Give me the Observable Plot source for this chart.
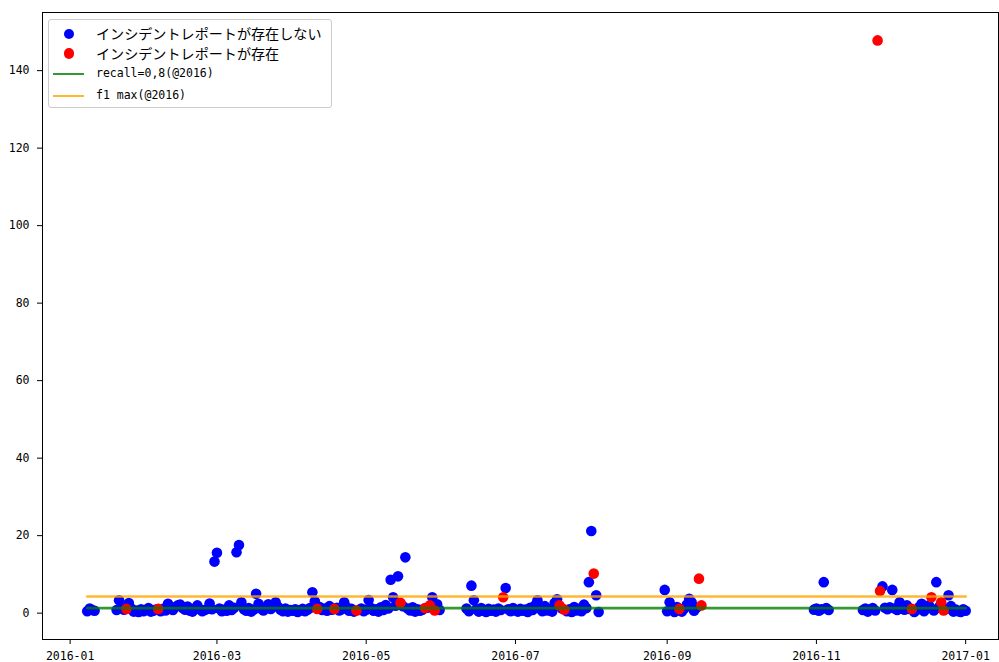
<!DOCTYPE html>
<html>
<head>
<meta charset="utf-8">
<script src="https://cdn.jsdelivr.net/npm/d3@7"></script>
<script src="https://cdn.jsdelivr.net/npm/@observablehq/plot@0.6"></script>
<style>
html, body { margin: 0; padding: 0; background: #fff; }
#wrap { position: relative; width: 999px; height: 662px; }
#legend { position: absolute; left: 48px; top: 19px; width: 284px; height: 89px; box-sizing: border-box;
  border: 1px solid #cccccc; border-radius: 3px; background: rgba(255,255,255,0.8); }
.row { position: absolute; left: 0; width: 100%; height: 0; }
.dotm { position: absolute; left: 14.5px; top: -5.3px; width: 10.6px; height: 10.6px; border-radius: 50%; }
.linem { position: absolute; left: 4px; top: -1.3px; width: 31px; height: 2.6px; }
.lab { position: absolute; left: 47px; white-space: nowrap; color: #000; line-height: 1; }
.jp { font-family: "Noto Sans CJK JP", sans-serif; font-size: 14.1px; top: -7.8px; }
.en { font-family: "DejaVu Sans Mono", monospace; font-size: 11.5px; top: -6.5px; }
</style>
</head>
<body>
<div id="wrap"></div>
<script>
// ---- data ----
const blueRuns = [
  ["2016-01-08", [0.5, 1.2, 0.8, 0.6]],
  ["2016-01-20", [
    0.8, 3.3, 1.5, 0.9, null, 2.6, 1.2, 0.4, 0.7, 0.3,
    1.0, 0.5, 0.8, 1.3, 0.4, 0.6, 0.9, null, 0.5, 1.1,
    0.7, 2.4, 1.4, 0.8, 1.6, 2.0, 2.2, 1.3, 0.9, 1.7,
    0.6, 0.4, 1.2, 2.0, 1.0, 0.5, 0.8, 1.1, 2.5, 1.0,
    13.3, 15.6, 1.2, 0.5, 0.9, 0.6, 2.0, 0.8, 1.4, 15.7,
    17.6, 2.8, 1.0, 0.6, 1.3, 0.4, 0.9, 5.0, 2.4, 1.2,
    0.7, 1.5, 2.3, 1.1, 2.0, 2.8, 1.6, 0.9, 0.5, 1.2,
    0.4, 0.8, 0.6, 1.0, 0.3, 0.7, 1.1, 0.5, 0.9, 1.3,
    5.4, 3.1, null, 1.6, 0.8, 1.2, 0.6, 1.8, 0.9, null,
    1.4, 0.7, 1.0, 2.8, 1.5, 0.6, 1.1, 0.4, null, 0.8,
    1.2, 0.5, 0.9, 3.4, 1.3, 0.6, 1.0, 0.4, 1.5, 0.8,
    2.1, 1.2, 8.6, 4.1, 1.9, 9.5, null, 1.8, 14.4, 1.2,
    0.7, 1.5, 0.4, 1.0, 0.6, 0.9, null, 1.4, null, 4.1,
    null, 2.3, 0.8]],
  ["2016-06-11", [
    1.2, 0.5, 7.1, 3.3, 1.0, 0.4, 1.3, 0.7, 0.3, 1.1,
    0.6, 0.9, 0.4, 1.2, 0.8, null, 6.5, 1.0, 0.5, 1.3,
    0.7, 0.4, 1.1, 0.6, 0.9, 0.3, 1.4, 0.8, 2.0, 3.3,
    1.2, 0.5, 1.8, 0.7, 1.0, 0.4, 2.6, 3.6, null, 1.2,
    null, 0.5, 1.0, 0.3, 1.6, 0.7, 1.1, 0.5, 2.2, 1.3,
    8.0, 21.2, null, 4.6, 0.3]],
  ["2016-08-31", [6.0, 0.5, 2.8, 1.0, 0.3, 1.6, null, 0.4, 1.2, 2.2, 3.7, 2.8, 0.6, 1.4]],
  ["2016-10-31", [0.9, 1.2, 0.6, 1.0, 8.0, 1.3, 0.8]],
  ["2016-11-20", [
    0.8, 1.2, 0.4, 0.9, 1.3, 0.7, null, null, 6.9, 1.4,
    1.0, 1.5, 6.0, 1.2, 0.8, 2.8, 1.5, 0.9, 2.0, 1.1,
    null, 0.3, 0.8, 1.6, 2.4, 0.5, 1.2, 2.0, null, 0.7,
    8.0, 1.5, null, null, 1.1, 4.6, 1.8, 0.4, 0.9, 0.5,
    0.3, 1.0, 0.6]]
];

const redDates = ["2016-01-24", "2016-02-06", "2016-04-11", "2016-04-18", "2016-04-27", "2016-05-15",
  "2016-05-25", "2016-05-27", "2016-05-29", "2016-06-26", "2016-07-19", "2016-07-21", "2016-08-02",
  "2016-09-06", "2016-09-14", "2016-09-15", "2016-11-26", "2016-11-27", "2016-12-10", "2016-12-18",
  "2016-12-22", "2016-12-23"];
const redValues = [1.1, 1.1, 1.1, 1.1, 0.7, 2.7, 1.3, 2.0, 0.7, 4.1, 2.0, 0.9, 10.2,
  1.1, 8.9, 2.0, 147.8, 5.7, 1.1, 4.1, 2.8, 0.7];

const lineDates = ["2016-01-08", "2017-01-01"];
const recallThreshold = 1.3;
const f1Threshold = 4.3;

const xTickLabels = ["2016-01", "2016-03", "2016-05", "2016-07", "2016-09", "2016-11", "2017-01"];
const yTicks = [0, 20, 40, 60, 80, 100, 120, 140];

const legendLabels = ["インシデントレポートが存在しない", "インシデントレポートが存在", "recall=0,8(@2016)", "f1 max(@2016)"];

// ---- build ----
const parse = d3.utcParse("%Y-%m-%d");
const blue = [];
for (const [start, vals] of blueRuns) {
  const t0 = parse(start);
  vals.forEach((v, i) => { if (v != null) blue.push({date: d3.utcDay.offset(t0, i), value: v}); });
}
const red = redDates.map((d, i) => ({date: parse(d), value: redValues[i]}));
const recallLine = lineDates.map(d => ({date: parse(d), value: recallThreshold}));
const f1Line = lineDates.map(d => ({date: parse(d), value: f1Threshold}));
const xTicks = xTickLabels.map(s => d3.utcParse("%Y-%m")(s));

const chart = Plot.plot({
  width: 999,
  height: 662,
  marginLeft: 42,
  marginRight: 1,
  marginTop: 12,
  marginBottom: 23,
  style: {fontFamily: "'DejaVu Sans Mono', monospace", fontSize: "11.5px", color: "#000", background: "#fff"},
  x: {type: "utc", domain: [new Date(Date.UTC(2015, 11, 20, 17)), new Date(Date.UTC(2017, 0, 14, 10))]},
  y: {domain: [-6.8, 155]},
  marks: [
    Plot.dot(blue, {x: "date", y: "value", r: 5.3, fill: "#0000ff", stroke: "none"}),
    Plot.dot(red, {x: "date", y: "value", r: 5.3, fill: "#ff0000", stroke: "none"}),
    Plot.line(recallLine, {x: "date", y: "value", stroke: "#008000", strokeOpacity: 0.8, strokeWidth: 2.6}),
    Plot.line(f1Line, {x: "date", y: "value", stroke: "#ffa500", strokeOpacity: 0.8, strokeWidth: 2.6}),
    Plot.frame({stroke: "#000", strokeWidth: 1}),
    Plot.axisX({ticks: xTicks, tickFormat: d3.utcFormat("%Y-%m"), tickSize: 5, tickPadding: 7, label: null}),
    Plot.axisY({ticks: yTicks, tickSize: 5, tickPadding: 8, label: null})
  ]
});

const wrap = document.getElementById("wrap");
wrap.appendChild(chart);

// legend
const legend = document.createElement("div");
legend.id = "legend";
const rowsY = [14, 33.5, 54, 76];
const kinds = [["dot", "#0000ff"], ["dot", "#ff0000"], ["line", "rgba(0,128,0,0.8)"], ["line", "rgba(255,165,0,0.8)"]];
legendLabels.forEach((lab, i) => {
  const row = document.createElement("div");
  row.className = "row";
  row.style.top = rowsY[i] + "px";
  const m = document.createElement("div");
  m.className = kinds[i][0] === "dot" ? "dotm" : "linem";
  m.style.background = kinds[i][1];
  row.appendChild(m);
  const t = document.createElement("span");
  t.className = "lab " + (i < 2 ? "jp" : "en");
  t.textContent = lab;
  row.appendChild(t);
  legend.appendChild(row);
});
wrap.appendChild(legend);
</script>
</body>
</html>
